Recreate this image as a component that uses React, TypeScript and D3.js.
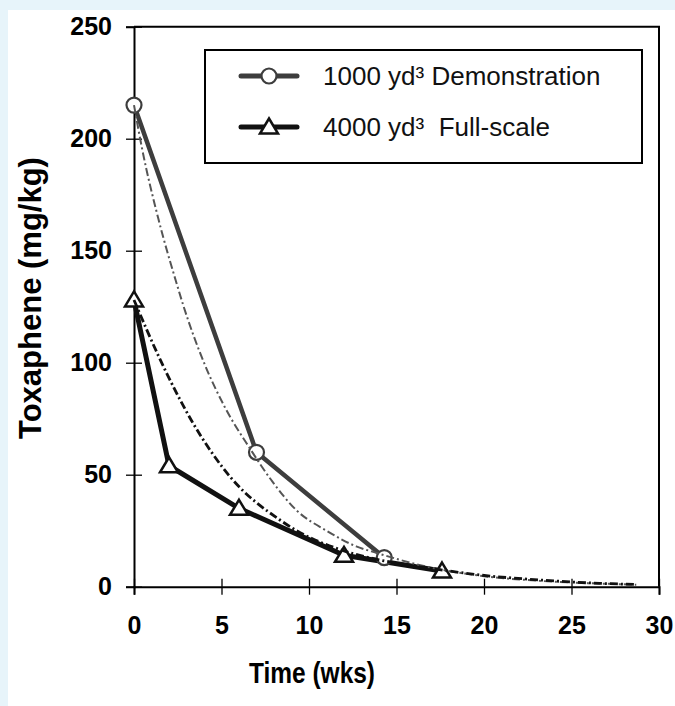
import { useEffect, useRef } from 'react';
import * as d3 from 'd3';

const xTicks = [0, 5, 10, 15, 20, 25, 30];
const yTicks = [0, 50, 100, 150, 200, 250];

// measured points
const demoWeeks = [0, 7, 14.3];
const demoToxaphene = [215, 60, 13];
const fullWeeks = [0, 2, 6, 12, 17.6];
const fullToxaphene = [128, 54, 35, 14, 7];

// fitted (dash-dot) curves
const demoFitWeeks = [0, 0.45, 1.4, 2.45, 2.8, 4, 5.2, 6.6, 7.9, 9.3, 11, 12.7, 13.9, 16.3, 19.8, 23.2, 26.6, 28.7];
const demoFitToxaphene = [215, 196, 164, 135, 126, 100, 80, 62, 47, 34, 25, 18, 15, 9.7, 4.9, 2.6, 1.4, 0.9];
const fullFitWeeks = [0, 1.4, 3.3, 5.5, 8.3, 9.3, 12, 14, 16.3, 19.8, 23.2, 26.6, 28.7];
const fullFitToxaphene = [128, 103, 74, 49, 30, 25, 16, 12, 9, 5.2, 3, 1.5, 1];

const legendLabels = ['1000 yd\u00b3 Demonstration', '4000 yd\u00b3  Full-scale'];

const FONT = '"Liberation Sans", Arial, Helvetica, sans-serif';

export default function App() {
  const svgRef = useRef<SVGSVGElement>(null);

  useEffect(() => {
    if (!svgRef.current) return;
    const svg = d3.select(svgRef.current);
    svg.selectAll('*').remove();

    const W = 675;
    const H = 706;
    svg.append('rect').attr('width', W).attr('height', H).attr('fill', '#e7f4fa');
    svg.append('rect').attr('x', 8).attr('y', 10).attr('width', W - 8).attr('height', H - 10).attr('fill', '#fff');

    const x = d3.scaleLinear().domain([0, 30]).range([134, 659]);
    const y = d3.scaleLinear().domain([0, 250]).range([586.7, 26.7]);

    // frame top / right
    svg.append('path')
      .attr('d', `M${x(0)},${y(250)}H${x(30)}V${y(0)}`)
      .attr('fill', 'none').attr('stroke', '#000').attr('stroke-width', 2);

    const yAxis = svg.append('g')
      .attr('transform', `translate(${x(0)},0)`)
      .call(d3.axisLeft(y).tickValues(yTicks).tickSize(8).tickPadding(14));
    svg.append('g')
      .attr('transform', `translate(${x(0)},0)`)
      .call(d3.axisRight(y).tickValues(yTicks).tickSize(8).tickFormat(() => ''))
      .call(g => g.select('.domain').remove());

    const xAxis = svg.append('g')
      .attr('transform', `translate(0,${y(0)})`)
      .call(d3.axisBottom(x).tickValues(xTicks).tickSize(8).tickPadding(22));
    svg.append('g')
      .attr('transform', `translate(0,${y(0)})`)
      .call(d3.axisTop(x).tickValues(xTicks).tickSize(8).tickFormat(() => ''))
      .call(g => g.select('.domain').remove());

    svg.selectAll('.domain').attr('stroke', '#000').attr('stroke-width', 2);
    svg.selectAll('.tick line').attr('stroke', '#000').attr('stroke-width', 1.3);
    [xAxis, yAxis].forEach(a => a.selectAll('text')
      .attr('font-family', FONT).attr('font-size', 25).attr('font-weight', 'bold').attr('fill', '#000'));

    const line = d3.line<[number, number]>().x(d => x(d[0])).y(d => y(d[1]));
    const fitLine = d3.line<[number, number]>().x(d => x(d[0])).y(d => y(d[1])).curve(d3.curveMonotoneX);

    const demo = demoWeeks.map((w, i) => [w, demoToxaphene[i]] as [number, number]);
    const full = fullWeeks.map((w, i) => [w, fullToxaphene[i]] as [number, number]);
    const demoFit = demoFitWeeks.map((w, i) => [w, demoFitToxaphene[i]] as [number, number]);
    const fullFit = fullFitWeeks.map((w, i) => [w, fullFitToxaphene[i]] as [number, number]);

    svg.append('path').datum(full).attr('d', line)
      .attr('fill', 'none').attr('stroke', '#111').attr('stroke-width', 5).attr('stroke-linejoin', 'round');
    svg.append('path').datum(demo).attr('d', line)
      .attr('fill', 'none').attr('stroke', '#3d3d3d').attr('stroke-width', 4.5).attr('stroke-linejoin', 'round');

    const triangle = (cx: number, cy: number) => {
      const p = d3.path();
      p.moveTo(cx, cy - 8.5);
      p.lineTo(cx + 9, cy + 6.5);
      p.lineTo(cx - 9, cy + 6.5);
      p.closePath();
      return p.toString();
    };

    svg.selectAll('.tri').data(full).enter().append('path')
      .attr('d', d => triangle(x(d[0]), y(d[1])))
      .attr('fill', '#fff').attr('stroke', '#111').attr('stroke-width', 2.5);
    svg.selectAll('.circ').data(demo).enter().append('circle')
      .attr('cx', d => x(d[0])).attr('cy', d => y(d[1])).attr('r', 7.5)
      .attr('fill', '#fff').attr('stroke', '#3d3d3d').attr('stroke-width', 2.2);

    svg.append('path').datum(demoFit).attr('d', fitLine)
      .attr('fill', 'none').attr('stroke', '#555').attr('stroke-width', 2)
      .attr('stroke-dasharray', '8,3,2,3');
    svg.append('path').datum(fullFit).attr('d', fitLine)
      .attr('fill', 'none').attr('stroke', '#111').attr('stroke-width', 2.8)
      .attr('stroke-dasharray', '8,3,2,3');

    // legend
    const lg = svg.append('g');
    lg.append('rect').attr('x', 205).attr('y', 50).attr('width', 437).attr('height', 113)
      .attr('fill', '#fff').attr('stroke', '#000').attr('stroke-width', 2);
    const rows = [76, 127];
    const colors = ['#3d3d3d', '#111'];
    rows.forEach((ry, i) => {
      lg.append('line').attr('x1', 241).attr('x2', 297).attr('y1', ry).attr('y2', ry)
        .attr('stroke', colors[i]).attr('stroke-width', 5).attr('stroke-linecap', 'round');
      if (i === 0) {
        lg.append('circle').attr('cx', 269).attr('cy', ry).attr('r', 7.5)
          .attr('fill', '#fff').attr('stroke', colors[i]).attr('stroke-width', 2.2);
      } else {
        lg.append('path').attr('d', triangle(269, ry))
          .attr('fill', '#fff').attr('stroke', colors[i]).attr('stroke-width', 2.5);
      }
      lg.append('text').attr('x', 323).attr('y', ry + 9)
        .attr('font-family', FONT).attr('font-size', 26).attr('fill', '#111')
        .style('white-space', 'pre')
        .text(legendLabels[i]);
    });

    // axis titles
    svg.append('text')
      .attr('transform', 'translate(41,298) rotate(-90)')
      .attr('text-anchor', 'middle')
      .attr('font-family', FONT).attr('font-size', 31).attr('font-weight', 'bold')
      .text('Toxaphene (mg/kg)');
    svg.append('text')
      .attr('x', 312).attr('y', 683)
      .attr('text-anchor', 'middle')
      .attr('font-family', FONT).attr('font-size', 29).attr('font-weight', 'bold')
      .attr('textLength', 126).attr('lengthAdjust', 'spacingAndGlyphs')
      .text('Time (wks)');
  }, []);

  return (
    <div style={{ position: 'absolute', left: 0, top: 0 }}>
      <svg ref={svgRef} width={675} height={706} style={{ display: 'block' }} />
    </div>
  );
}
